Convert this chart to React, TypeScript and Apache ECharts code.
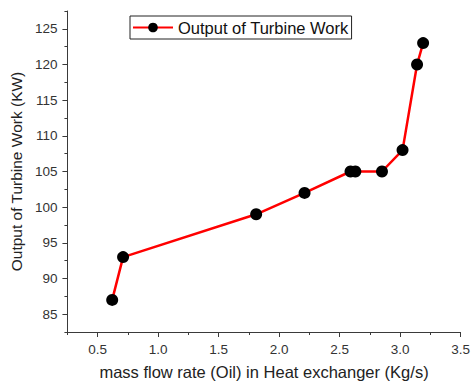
import React, { useEffect, useRef } from "react";
import * as echarts from "echarts";

const massFlow = [0.62, 0.71, 1.81, 2.21, 2.59, 2.63, 2.85, 3.02, 3.14, 3.19];
const turbineWork = [87, 93, 99, 102, 105, 105, 105, 108, 120, 123];
const xTickValues = [0.5, 1.0, 1.5, 2.0, 2.5, 3.0, 3.5];
const yTickValues = [85, 90, 95, 100, 105, 110, 115, 120, 125];
const seriesName = "Output of Turbine Work";
const xName = "mass flow rate (Oil) in Heat exchanger (Kg/s)";
const yName = "Output of Turbine Work (KW)";

const FONT = "'Liberation Sans', Arial, sans-serif";
const AXIS_COLOR = "#3a3a3a";

export default function App() {
  const ref = useRef<HTMLDivElement>(null);
  useEffect(() => {
    if (!ref.current) return;
    const chart = echarts.init(ref.current, undefined, { renderer: "svg" });
    const data = massFlow.map((x, i) => [x, turbineWork[i]]);
    const xMin = 0.25, xMax = 3.5, yMin = 82.5, yMax = 127.5;
    chart.setOption({
      animation: false,
      backgroundColor: "#ffffff",
      textStyle: { fontFamily: FONT },
      grid: { left: 64, right: 7, top: 11, bottom: 50, containLabel: false },
      legend: {
        left: 130,
        top: 16,
        padding: [3, 3, 3, 2],
        borderColor: "#222",
        borderWidth: 1,
        itemWidth: 40,
        itemHeight: 12,
        itemGap: 4,
        textStyle: { fontSize: 16.5, color: "#111", fontFamily: FONT },
        data: [seriesName],
      },
      xAxis: [
        {
          type: "value",
          min: xMin,
          max: xMax,
          name: xName,
          nameLocation: "middle",
          nameGap: 31,
          nameTextStyle: { fontSize: 16.5, color: "#222", fontFamily: FONT },
          axisLine: { show: true, onZero: false, lineStyle: { color: AXIS_COLOR, width: 1 } },
          axisTick: { show: true, length: 5, customValues: xTickValues, lineStyle: { color: AXIS_COLOR } },
          axisLabel: {
            customValues: xTickValues,
            margin: 10,
            fontSize: 13.5,
            color: "#333",
            fontFamily: FONT,
            formatter: (v: number) => v.toFixed(1),
          },
          splitLine: { show: false },
        },
        {
          type: "value",
          min: xMin,
          max: xMax,
          interval: 0.25,
          position: "bottom",
          axisLine: { show: false, onZero: false },
          axisTick: { show: true, length: 3, lineStyle: { color: AXIS_COLOR } },
          axisLabel: { show: false },
          splitLine: { show: false },
        },
      ],
      yAxis: [
        {
          type: "value",
          min: yMin,
          max: yMax,
          name: yName,
          nameLocation: "middle",
          nameGap: 38,
          nameTextStyle: { fontSize: 15.5, color: "#222", fontFamily: FONT },
          axisLine: { show: true, onZero: false, lineStyle: { color: AXIS_COLOR, width: 1 } },
          axisTick: { show: true, length: 5, customValues: yTickValues, lineStyle: { color: AXIS_COLOR } },
          axisLabel: {
            customValues: yTickValues,
            margin: 10,
            fontSize: 13.5,
            color: "#333",
            fontFamily: FONT,
          },
          splitLine: { show: false },
        },
        {
          type: "value",
          min: yMin,
          max: yMax,
          interval: 2.5,
          position: "left",
          axisLine: { show: false, onZero: false },
          axisTick: { show: true, length: 3, lineStyle: { color: AXIS_COLOR } },
          axisLabel: { show: false },
          splitLine: { show: false },
        },
      ],
      series: [
        {
          name: seriesName,
          type: "line",
          xAxisIndex: 0,
          yAxisIndex: 0,
          data,
          symbol: "circle",
          symbolSize: 12,
          lineStyle: { color: "#ff0000", width: 2.5 },
          itemStyle: { color: "#000000" },
          color: "#ff0000",
        },
      ],
    });
    return () => chart.dispose();
  }, []);
  return (
    <div
      ref={ref}
      style={{ position: "fixed", left: 0, top: 0, width: 473, height: 385 }}
    />
  );
}
